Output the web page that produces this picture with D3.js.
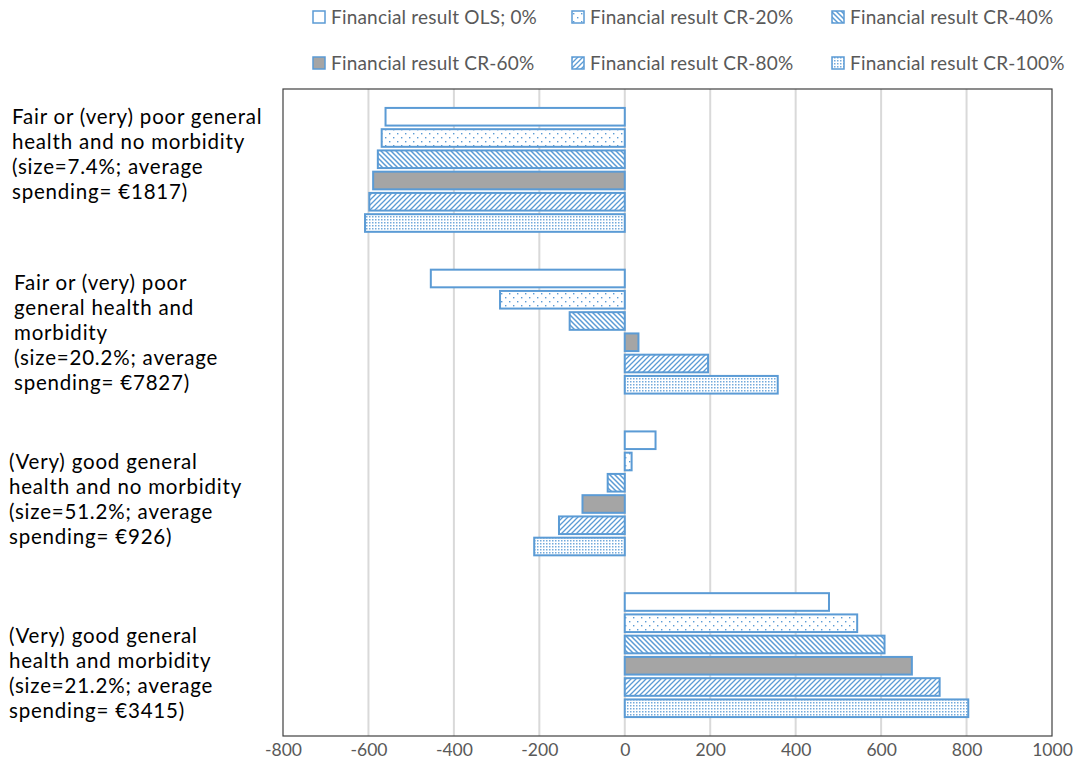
<!DOCTYPE html>
<html><head><meta charset="utf-8">
<script src="https://cdn.jsdelivr.net/npm/d3@7"></script>
<style>body{margin:0;background:#fff}svg{display:block}</style>
</head><body>
<svg id="c" width="1075" height="760"></svg>
<script>
const categories = [
  ["Fair or (very) poor general","health and no morbidity","(size=7.4%; average","spending= €1817)"],
  ["Fair or (very) poor","general health and","morbidity","(size=20.2%; average","spending= €7827)"],
  ["(Very) good general","health and no morbidity","(size=51.2%; average","spending= €926)"],
  ["(Very) good general","health and morbidity","(size=21.2%; average","spending= €3415)"]
];
const seriesNames = ["Financial result OLS; 0%","Financial result CR-20%","Financial result CR-40%","Financial result CR-60%","Financial result CR-80%","Financial result CR-100%"];
const olsValues   = [-560, -454,  72, 478];
const cr20Values  = [-569, -292,  16, 544];
const cr40Values  = [-578, -129, -40, 608];
const cr60Values  = [-589,   32, -99, 672];
const cr80Values  = [-598,  195, -154, 737];
const cr100Values = [-608,  358, -212, 804];
const xTicks = [-800,-600,-400,-200,0,200,400,600,800,1000];

const seriesValues = [olsValues, cr20Values, cr40Values, cr60Values, cr80Values, cr100Values];
const fills = ["#ffffff","url(#p20)","url(#p40)","#A5A5A5","url(#p80)","url(#p100)"];
const blue = "#5B9BD5";
const font = "Lato, 'Open Sans', sans-serif";

const svg = d3.select("#c");
const defs = svg.append("defs");
let p = defs.append("pattern").attr("id","p20").attr("patternUnits","userSpaceOnUse").attr("width",8).attr("height",8);
p.append("rect").attr("width",8).attr("height",8).attr("fill","#fff");
p.append("rect").attr("x",1).attr("y",1).attr("width",1.4).attr("height",1.4).attr("fill",blue);
p.append("rect").attr("x",5).attr("y",5).attr("width",1.4).attr("height",1.4).attr("fill",blue);
p = defs.append("pattern").attr("id","p40").attr("patternUnits","userSpaceOnUse").attr("width",5).attr("height",5);
p.append("rect").attr("width",5).attr("height",5).attr("fill","#fff");
p.append("path").attr("d","M-1,-1 L6,6 M-1,4 L1,6 M4,-1 L6,1").attr("stroke",blue).attr("stroke-width",1.5);
p = defs.append("pattern").attr("id","p80").attr("patternUnits","userSpaceOnUse").attr("width",5).attr("height",5);
p.append("rect").attr("width",5).attr("height",5).attr("fill","#fff");
p.append("path").attr("d","M-1,6 L6,-1 M-1,1 L1,-1 M4,6 L6,4").attr("stroke",blue).attr("stroke-width",1.3);
p = defs.append("pattern").attr("id","p100").attr("patternUnits","userSpaceOnUse").attr("width",3).attr("height",3);
p.append("rect").attr("width",3).attr("height",3).attr("fill","#fff");
p.append("rect").attr("x",0).attr("y",0).attr("width",1.5).attr("height",1.5).attr("fill",blue).attr("opacity",0.85);

const x = d3.scaleLinear().domain([-800,1000]).range([283,1052]);
const y = d3.scaleBand().domain(d3.range(categories.length)).range([89,736]).paddingInner(0.234).paddingOuter(0.117);
const yi = d3.scaleBand().domain(d3.range(seriesNames.length)).range([0,y.bandwidth()]).paddingInner(0.17);

svg.append("g").selectAll("line").data(xTicks.filter(t=>t>-800 && t<1000)).join("line")
  .attr("x1",d=>x(d)).attr("x2",d=>x(d)).attr("y1",89).attr("y2",736)
  .attr("stroke","#D9D9D9").attr("stroke-width",2);

categories.forEach((c,ci)=>{
  seriesValues.forEach((vals,si)=>{
    const v = vals[ci];
    svg.append("rect")
      .attr("x",Math.min(x(0),x(v)))
      .attr("y",y(ci)+yi(si))
      .attr("width",Math.abs(x(v)-x(0)))
      .attr("height",yi.bandwidth())
      .attr("fill",fills[si]).attr("stroke",blue).attr("stroke-width",2);
  });
});

svg.append("rect").attr("x",283).attr("y",89).attr("width",1052-283).attr("height",736-89)
  .attr("fill","none").attr("stroke","#404040").attr("stroke-width",1.2);

const xa = d3.axisBottom(x).tickValues(xTicks).tickSize(0).tickPadding(8).tickFormat(d=>String(d));
const gx = svg.append("g").attr("transform","translate(0,736)").call(xa);
gx.select(".domain").remove();
gx.selectAll("text").attr("font-family",font).attr("font-size",17.5).attr("fill","#595959");

const labelX = [12,14,9,9];
const labelY0 = [117,283,462,636];
categories.forEach((lines,ci)=>{
  const t = svg.append("text").attr("font-family",font).attr("font-size",20.5)
    .attr("letter-spacing",0.8).attr("fill","#000");
  lines.forEach((ln,li)=>{
    t.append("tspan").attr("x",labelX[ci]).attr("y",labelY0[ci]+li*25+7).text(ln);
  });
});

const legX = [313,572,832];
const legY = [17,63];
seriesNames.forEach((n,i)=>{
  const lx = legX[i%3], ly = legY[Math.floor(i/3)];
  svg.append("rect").attr("x",lx).attr("y",ly-6).attr("width",12).attr("height",12)
    .attr("fill",fills[i]).attr("stroke",blue).attr("stroke-width",1.5);
  svg.append("text").attr("x",lx+18).attr("y",ly+6.5).text(n)
    .attr("font-family",font).attr("font-size",19).attr("letter-spacing",0.2).attr("fill","#595959");
});
</script>
</body></html>
